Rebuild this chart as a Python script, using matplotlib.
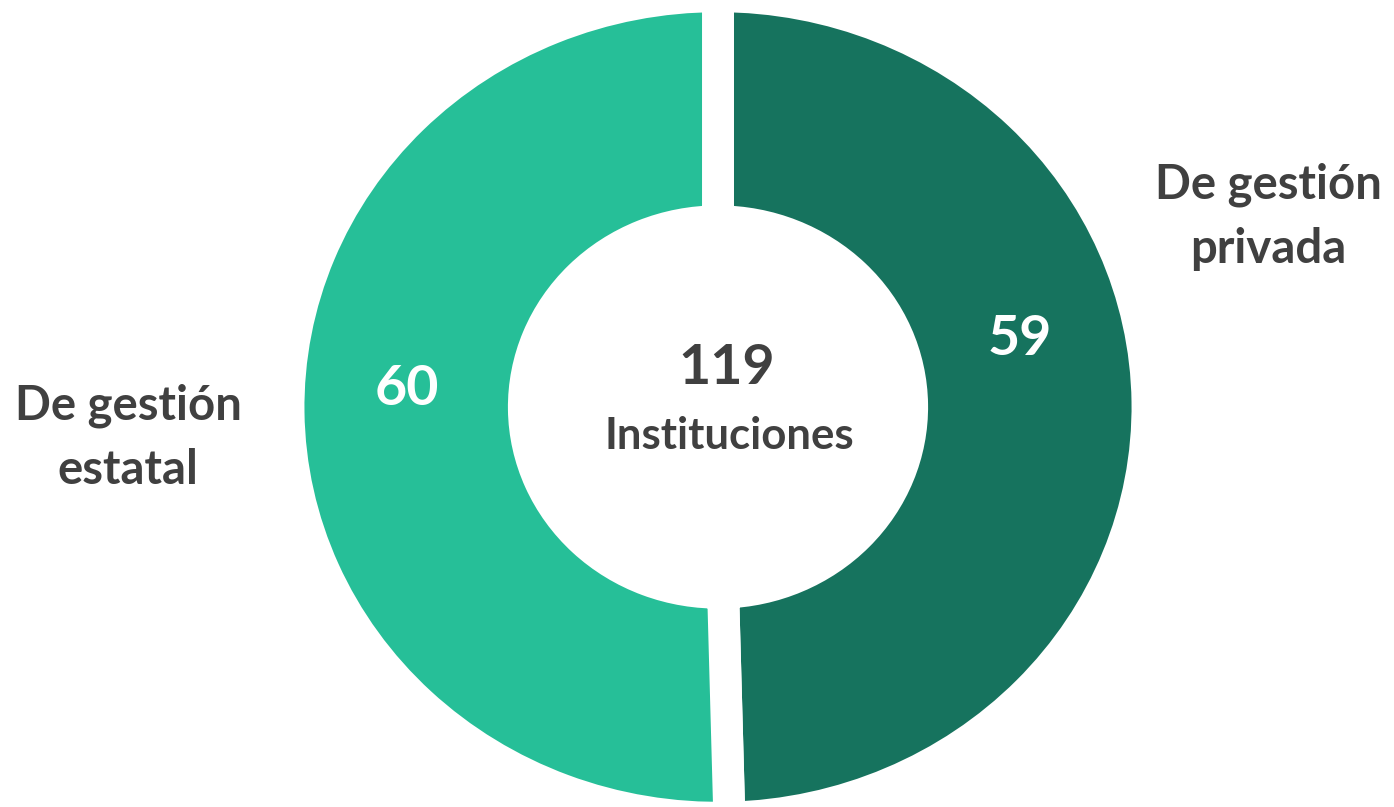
import matplotlib
matplotlib.use("Agg")
import matplotlib.pyplot as plt

# data
categories = ["De gestión privada", "De gestión estatal"]
values = [59, 60]
total_label = "Instituciones"
colors = ["#16735E", "#26BF98"]
text_color = "#404040"

plt.rcParams['font.family'] = ['Lato', 'DejaVu Sans']

W, H = 1394, 807
fig = plt.figure(figsize=(W / 100, H / 100), dpi=100)

# ring spans x 305..1131 and y 12..802 in the picture
ax = fig.add_axes([305 / W, (H - 802) / H, 826 / W, 790 / H])

gap = 23  # white gap between slices, in points
pad = 0.04  # half the edge width eaten from the outer/inner rim
wedges, _ = ax.pie(values, colors=colors, startangle=90, counterclock=False,
                   radius=1 + pad,
                   wedgeprops=dict(width=0.49 + 2 * pad, edgecolor="white",
                                   linewidth=gap))
ax.set_aspect('auto')
ax.set_xlim(-1, 1)
ax.set_ylim(-1, 1)
ax.axis('off')


def px(x, y):
    # picture pixels -> data coordinates of the ring
    return (x - 718) / 413, (406 - y) / 395


# values on the ring
ax.text(*px(1020, 338), str(values[0]), color="white", fontsize=40,
        fontweight="bold", ha="center", va="center")
ax.text(*px(407, 388), str(values[1]), color="white", fontsize=40,
        fontweight="bold", ha="center", va="center")

# total in the hole
ax.text(*px(727, 367), str(sum(values)), color=text_color, fontsize=40,
        fontweight="bold", ha="center", va="center")
ax.text(*px(729, 435), total_label, color=text_color, fontsize=31.5,
        fontweight="bold", ha="center", va="center")

# category labels
ax.text(*px(1268, 216), categories[0].replace("gestión ", "gestión\n"),
        color=text_color, fontsize=34, fontweight="bold", ha="center",
        va="center", linespacing=1.55)
ax.text(*px(128, 437), categories[1].replace("gestión ", "gestión\n"),
        color=text_color, fontsize=34, fontweight="bold", ha="center",
        va="center", linespacing=1.55)

fig.savefig("out.png", dpi=100, facecolor="white")
